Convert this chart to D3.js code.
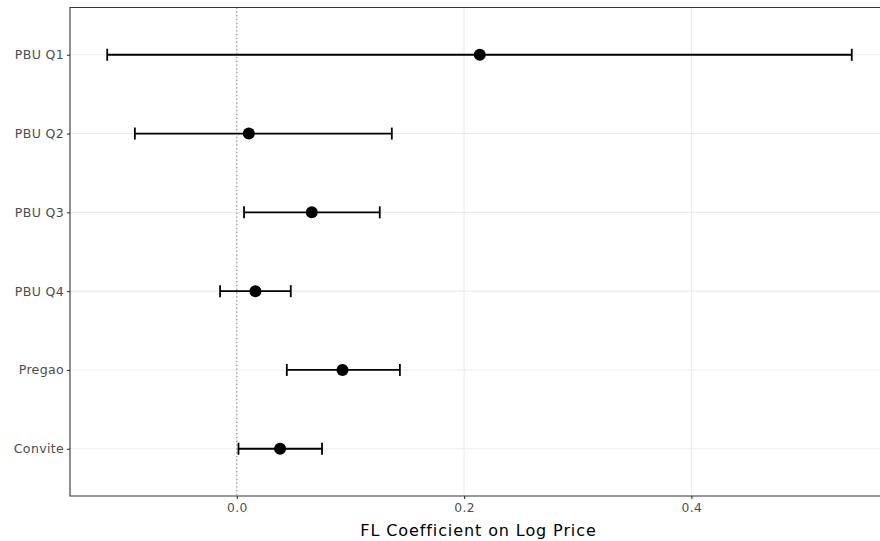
<!DOCTYPE html>
<html>
<head>
<meta charset="utf-8">
<script src="https://cdn.jsdelivr.net/npm/d3@7"></script>
<style>
  body { margin: 0; background: #fff; overflow: hidden; }
  svg { display: block; font-family: "DejaVu Sans", sans-serif; }
</style>
</head>
<body>
<svg width="880" height="541"></svg>
<script>
var categories = ["PBU Q1", "PBU Q2", "PBU Q3", "PBU Q4", "Pregao", "Convite"];
var estimates = [0.2138, 0.0106, 0.0660, 0.0164, 0.0930, 0.0381];
var lowers = [-0.1140, -0.0897, 0.0064, -0.0147, 0.0440, 0.0015];
var uppers = [0.5411, 0.1364, 0.1258, 0.0475, 0.1435, 0.0750];
var xTicks = [0.0, 0.2, 0.4];

var svg = d3.select("svg"),
  width = +svg.attr("width"),
  pLeft = 70, pTop = 7.5, pRight = 889, pBottom = 496;

var lo = d3.min(lowers), hi = d3.max(uppers), pad = (hi - lo) * 0.05;
var x = d3.scaleLinear().domain([lo - pad, hi + pad]).range([pLeft, pRight]);
var y = d3.scalePoint().domain(categories).range([pTop, pBottom]).padding(0.6);

var rows = categories.map(function(c, i) {
  return { name: c, est: estimates[i], lo: lowers[i], hi: uppers[i] };
});

var panel = svg.append("g");

// grid
panel.selectAll(".gx").data(xTicks).enter().append("line")
  .attr("x1", x).attr("x2", x).attr("y1", pTop).attr("y2", pBottom)
  .attr("stroke", "#ebebeb").attr("stroke-width", 1.1);
panel.selectAll(".gy").data(categories).enter().append("line")
  .attr("x1", pLeft).attr("x2", width).attr("y1", y).attr("y2", y)
  .attr("stroke", "#ebebeb").attr("stroke-width", 1.1);

// zero reference
panel.append("line")
  .attr("x1", x(0)).attr("x2", x(0)).attr("y1", pTop).attr("y2", pBottom)
  .attr("stroke", "#8a8a8a").attr("stroke-width", 1.1)
  .attr("stroke-dasharray", "1.2,2.6");

// error bars
var bars = panel.selectAll(".bar").data(rows).enter().append("g");
bars.append("line")
  .attr("x1", function(d) { return x(d.lo); }).attr("x2", function(d) { return x(d.hi); })
  .attr("y1", function(d) { return y(d.name); }).attr("y2", function(d) { return y(d.name); })
  .attr("stroke", "#000").attr("stroke-width", 1.8);
bars.selectAll(".cap").data(function(d) { return [[d.lo, d.name], [d.hi, d.name]]; })
  .enter().append("line")
  .attr("x1", function(d) { return x(d[0]); }).attr("x2", function(d) { return x(d[0]); })
  .attr("y1", function(d) { return y(d[1]) - 6; }).attr("y2", function(d) { return y(d[1]) + 6; })
  .attr("stroke", "#000").attr("stroke-width", 1.8);
bars.append("circle")
  .attr("cx", function(d) { return x(d.est); }).attr("cy", function(d) { return y(d.name); })
  .attr("r", 6).attr("fill", "#000");

// panel border (its right side lies beyond the picture)
panel.append("path")
  .attr("d", "M" + width + "," + pTop + "H" + pLeft + "V" + pBottom + "H" + width)
  .attr("fill", "none").attr("stroke", "#333").attr("stroke-width", 1.1);

// axes
var xAxis = svg.append("g").attr("transform", "translate(0," + pBottom + ")")
  .call(d3.axisBottom(x).tickValues(xTicks).tickFormat(d3.format(".1f")).tickSize(3).tickPadding(4));
var yAxis = svg.append("g").attr("transform", "translate(" + pLeft + ",0)")
  .call(d3.axisLeft(y).tickSize(3).tickPadding(3));
[xAxis, yAxis].forEach(function(a) {
  a.select(".domain").remove();
  a.selectAll(".tick line").attr("stroke", "#333").attr("stroke-width", 1.1);
  a.selectAll(".tick text").attr("fill", "#4d4d4d")
    .style("font-family", "DejaVu Sans");
});
xAxis.selectAll(".tick text").style("font-size", "12.3px").style("letter-spacing", "0.4px");
yAxis.selectAll(".tick text").style("font-size", "12.6px").style("letter-spacing", "0.3px");

svg.append("text")
  .attr("x", (pLeft + pRight) / 2 - 1).attr("y", 535.5)
  .attr("text-anchor", "middle")
  .style("font-size", "16px").style("letter-spacing", "0.9px").attr("fill", "#000")
  .text("FL Coefficient on Log Price");
</script>
</body>
</html>
